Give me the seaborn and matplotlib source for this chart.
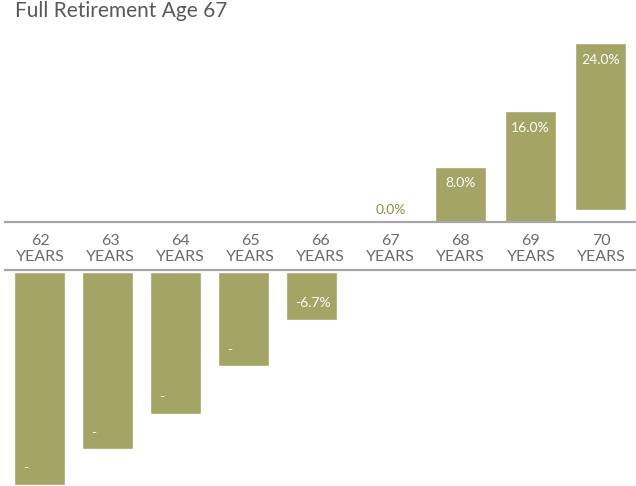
import numpy as np
import pandas as pd
import matplotlib
matplotlib.use("Agg")
import matplotlib.pyplot as plt
import seaborn as sns

sns.set_style("white")
plt.rcParams['font.family'] = ['Lato', 'DejaVu Sans']

# benefit change by claiming age (full retirement age 67)
ages = ["62", "63", "64", "65", "66", "67", "68", "69", "70"]
pct = [-30.0, -25.0, -20.0, -13.3, -6.7, 0.0, 8.0, 16.0, 24.0]
value_labels = ["-", "-", "-", "-", "-6.7%", "0.0%", "8.0%", "16.0%", "24.0%"]
title = "Full Retirement Age 67"

bar_col = "#A4A564"
grey_txt = "#6B6B6B"
line_col = "#A6A6A6"
lift_70 = 1.8   # the 70 bar floats a little above the axis in the original

df = pd.DataFrame({"age": ages, "pct": pct})

W, H = 636, 486
fig = plt.figure(figsize=(W / 100, H / 100), dpi=100)

# upper panel: positive changes
ax_top = fig.add_axes([5.5 / W, 264 / H, 630 / W, 222 / H])
sns.barplot(data=df, x="age", y="pct", color=bar_col, saturation=1,
            width=0.73, ax=ax_top)
ax_top.set_ylim(0, 32)
ax_top.set_xlim(-0.5, 8.5)
ax_top.patches[-1].set_y(lift_70)

# lower panel: reductions
ax_bot = fig.add_axes([5.5 / W, 0, 612 / W, 214 / H])
sns.barplot(data=df, x="age", y="pct", color=bar_col, saturation=1,
            width=0.75, ax=ax_bot)
ax_bot.set_ylim(-30.15, 0)
ax_bot.set_xlim(-0.5, 8.5)

for ax in (ax_top, ax_bot):
    ax.axis("off")

# value labels
for i, (v, lab) in enumerate(zip(pct, value_labels)):
    if v > 0:
        top = v + (lift_70 if i == len(pct) - 1 else 0)
        ax_top.annotate(lab, (i, top), xytext=(0, -12), textcoords="offset points",
                        ha="center", va="center", color="white", fontsize=10)
    elif v == 0:
        ax_top.annotate(lab, (i, 0), xytext=(0, 9), textcoords="offset points",
                        ha="center", va="center", color="#8E8F3E", fontsize=10)
    else:
        ax_bot.annotate(lab, (i, v), xytext=(-12, 12), textcoords="offset points",
                        ha="left", va="center", color="white", fontsize=10)

# category band between the two grey rules
ax_mid = fig.add_axes([5 / W, 216 / H, 631 / W, 48 / H])
ax_mid.set_xlim(-0.5, 8.5)
ax_mid.set_ylim(0, 1)
ax_mid.set_xticks([])
ax_mid.set_yticks([])
for s in ["left", "right"]:
    ax_mid.spines[s].set_visible(False)
for s in ["top", "bottom"]:
    ax_mid.spines[s].set_color(line_col)
    ax_mid.spines[s].set_linewidth(1.6)
for i, a in enumerate(ages):
    ax_mid.text(i, 0.44, a + "\nYEARS", ha="center", va="center",
                color=grey_txt, fontsize=11.5, linespacing=1.2)

fig.text(15 / W, (H - 17) / H, title, ha="left", va="baseline",
         color="#595959", fontsize=15)

fig.savefig("out.png", dpi=100)
